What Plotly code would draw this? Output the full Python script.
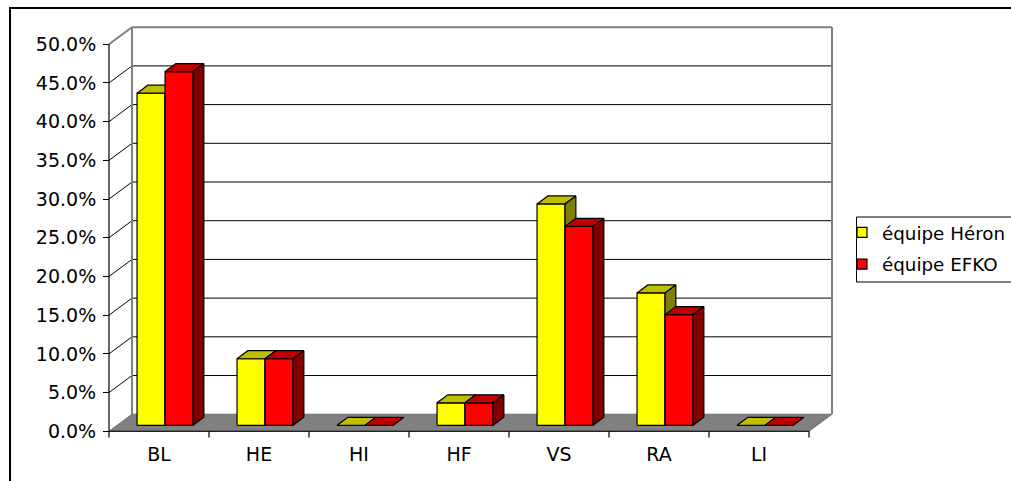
import plotly.graph_objects as go

# ---------------- data ----------------
categories = ["BL", "HE", "HI", "HF", "VS", "RA", "LI"]
heron = [42.9, 8.6, 0.0, 2.9, 28.6, 17.1, 0.0]
efko = [45.7, 8.6, 0.0, 2.9, 25.7, 14.3, 0.0]
series_names = ["équipe Héron", "équipe EFKO"]
y_ticks = [0, 5, 10, 15, 20, 25, 30, 35, 40, 45, 50]

# ---------------- styling / pseudo-3D parameters ----------------
FONT = "DejaVu Sans, Liberation Sans, Arial, sans-serif"
FS = 19
LEG_FS = 18.3
DEPTH_X = 0.23      # back-wall shift, category units
DEPTH_Y = 2.2       # back-wall shift, percent units
BAR_Z0, BAR_Z1 = 0.35, 0.82
BAR_X0, BAR_W = 0.20, 0.28
FACE = {0: ("#FFFF00", "#BFBF00", "#808000"), 1: ("#FF0000", "#C00000", "#800000")}
YMAX = 50
NCAT = len(categories)

W, H = 1011, 481
X_RANGE = [-0.1, NCAT + 0.3]
Y_RANGE = [-1.0, 53.0]
L, R, T, B = 99, 172, 21, 42
PW = W - L - R
PH = H - T - B


def px_x(p):  # page pixel -> paper x
    return (p - L) / PW


def px_y(p):  # page pixel -> paper y
    return (H - B - p) / PH


def proj(x, y, z):
    return x + z * DEPTH_X, y + z * DEPTH_Y


def poly_trace(polys, fill, line_color="black", width=1.2):
    xs, ys = [], []
    for p in polys:
        for (x, y) in p + [p[0]]:
            xs.append(x)
            ys.append(y)
        xs.append(None)
        ys.append(None)
    return go.Scatter(x=xs, y=ys, mode="lines", fill="toself", fillcolor=fill,
                      line=dict(color=line_color, width=width),
                      showlegend=False, hoverinfo="skip")


def seg_trace(segs, color, width=1):
    xs, ys = [], []
    for (a, b) in segs:
        xs += [a[0], b[0], None]
        ys += [a[1], b[1], None]
    return go.Scatter(x=xs, y=ys, mode="lines", line=dict(color=color, width=width),
                      showlegend=False, hoverinfo="skip")


fig = go.Figure()

# back wall (white) with grid
wall = [proj(0, 0, 1), proj(NCAT, 0, 1), proj(NCAT, YMAX, 1), proj(0, YMAX, 1)]
fig.add_trace(poly_trace([wall], "white", line_color="rgba(0,0,0,0)", width=0))
grid = [(proj(0, v, 1), proj(NCAT, v, 1)) for v in y_ticks if 0 < v < YMAX]
diag = [(proj(0, v, 0), proj(0, v, 1)) for v in y_ticks if 0 < v < YMAX]
fig.add_trace(seg_trace(grid + diag, "black", 1))
frame = [(proj(0, 0, 1), proj(0, YMAX, 1)), (proj(0, YMAX, 1), proj(NCAT, YMAX, 1)),
         (proj(NCAT, YMAX, 1), proj(NCAT, 0, 1)), (proj(0, YMAX, 0), proj(0, YMAX, 1))]
fig.add_trace(seg_trace(frame, "#808080", 2))

# floor
floor = [proj(0, 0, 0), proj(NCAT, 0, 0), proj(NCAT, 0, 1), proj(0, 0, 1)]
fig.add_trace(poly_trace([floor], "#808080", line_color="#707070", width=1))

# bars
for s, vals in enumerate([heron, efko]):
    fronts, tops, sides = [], [], []
    for i, v in enumerate(vals):
        x0 = i + BAR_X0 + s * BAR_W
        x1 = x0 + BAR_W
        fronts.append([proj(x0, 0, BAR_Z0), proj(x1, 0, BAR_Z0), proj(x1, v, BAR_Z0), proj(x0, v, BAR_Z0)])
        tops.append([proj(x0, v, BAR_Z0), proj(x1, v, BAR_Z0), proj(x1, v, BAR_Z1), proj(x0, v, BAR_Z1)])
        if v > 0:
            sides.append([proj(x1, 0, BAR_Z0), proj(x1, v, BAR_Z0), proj(x1, v, BAR_Z1), proj(x1, 0, BAR_Z1)])
    f, t, sd = FACE[s]
    fig.add_trace(poly_trace(fronts, f))
    fig.add_trace(poly_trace(tops, t))
    if sides:
        fig.add_trace(poly_trace(sides, sd))

# front axes lines and category boundary ticks
axes_lines = [((0, 0), (0, YMAX)), ((0, 0), (NCAT, 0))]
tick_len = 0.8
cat_ticks = [((i, 0), (i, -tick_len)) for i in range(NCAT + 1)]
fig.add_trace(seg_trace(axes_lines + cat_ticks, "black", 1.2))

# legend entries
for s, name in enumerate(series_names):
    fig.add_trace(go.Scatter(x=[None], y=[None], mode="markers", name=name,
                             legendgroup=name,
                             marker=dict(symbol="square", size=10, color=FACE[s][0],
                                         line=dict(color="black", width=1.2))))

xpos = (0 - X_RANGE[0]) / (X_RANGE[1] - X_RANGE[0])
ypos = (0 - Y_RANGE[0]) / (Y_RANGE[1] - Y_RANGE[0])

fig.update_layout(
    width=W, height=H,
    margin=dict(l=L, r=R, t=T, b=B, autoexpand=False),
    paper_bgcolor="white", plot_bgcolor="white",
    font=dict(family=FONT, size=FS, color="black"),
    xaxis=dict(range=X_RANGE, showgrid=False, zeroline=False, showline=False,
               tickmode="array", tickvals=[i + 0.5 for i in range(NCAT)], ticktext=categories,
               ticks="", anchor="free", position=ypos, ticklabelstandoff=10,
               tickfont=dict(family=FONT, size=FS)),
    yaxis=dict(range=Y_RANGE, showgrid=False, zeroline=False, showline=False,
               tickmode="array", tickvals=y_ticks,
               ticktext=[f"{v:.1f}%" for v in y_ticks],
               ticks="outside", ticklen=6, tickcolor="black", tickwidth=1.2,
               anchor="free", position=xpos, ticklabelstandoff=3,
               tickfont=dict(family=FONT, size=FS)),
    showlegend=True,
    legend=dict(x=px_x(842), y=px_y(214), xanchor="left", yanchor="top",
                borderwidth=0, bgcolor="rgba(0,0,0,0)",
                font=dict(family=FONT, size=LEG_FS), tracegroupgap=5),
    shapes=[
        dict(type="rect", xref="paper", yref="paper",
             x0=px_x(10), x1=1.5, y0=-0.5, y1=px_y(8),
             line=dict(color="black", width=2), fillcolor="rgba(0,0,0,0)", layer="below"),
        dict(type="rect", xref="paper", yref="paper",
             x0=px_x(856.5), x1=px_x(1030), y0=px_y(282), y1=px_y(217),
             line=dict(color="black", width=1), fillcolor="rgba(0,0,0,0)", layer="above"),
    ],
)

fig.write_html("out.html")
